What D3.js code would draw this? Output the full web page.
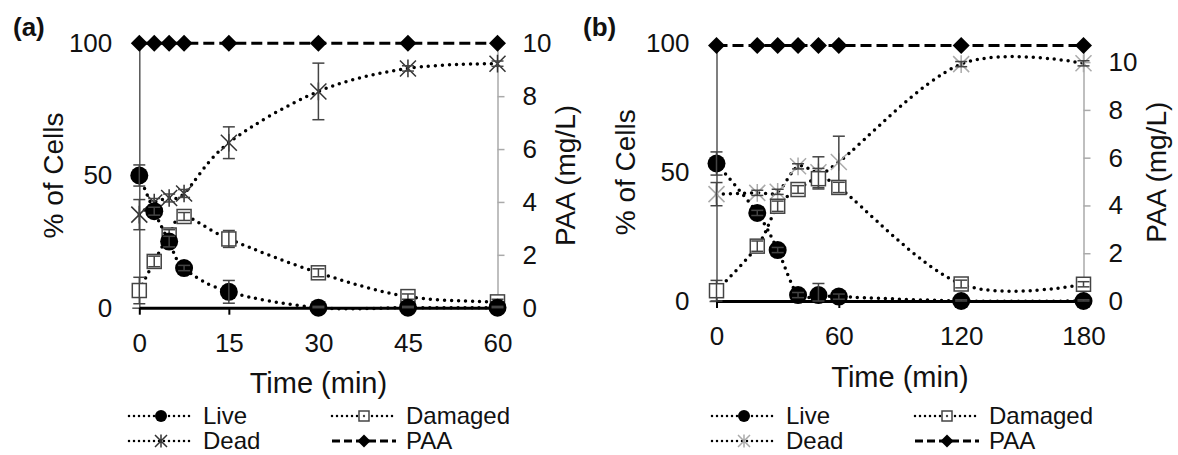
<!DOCTYPE html>
<html>
<head>
<meta charset="utf-8">
<script src="https://cdn.jsdelivr.net/npm/d3@7"></script>
<style>
    body { margin: 0; background: #fff; }
    text { font-family: "Liberation Sans", Arial, sans-serif; fill: #111; }
</style>
</head>
<body>
<svg id="chart" width="1178" height="455"></svg>
<script>
//#region data
// panel (a)
let timesA = [0, 2.5, 5, 7.5, 15, 30, 45, 60]
let liveA = [50, 36.5, 25, 15, 6, 0, 0, 0]
let liveErrA = [4, 1.5, 2, 1, 4.3, 0.5, 0.5, 0.5]
let damagedA = [6.5, 17.5, 27.5, 34.5, 26, 13.2, 4.2, 2.2]
let damagedErrA = [5, 2, 2, 1.5, 3.2, 1.5, 1, 1]
let deadA = [35.2, 39.8, 41.5, 43.2, 62.4, 81.8, 90.5, 92.3]
let deadErrA = [5.7, 1.5, 1.5, 1.5, 6, 10.7, 1, 1]
let paaA = [10, 10, 10, 10, 10, 10, 10, 10]
let xTicksA = [0, 15, 30, 45, 60]

// panel (b)
let timesB = [0, 20, 30, 40, 50, 60, 120, 180]
let liveB = [53.4, 34.2, 19.8, 2.3, 2.3, 1.7, 0, 0]
let liveErrB = [4.5, 1, 1, 1, 4.5, 1, 0.5, 0.5]
let damagedB = [4, 21.3, 36.8, 43.3, 47.5, 44.1, 6.6, 6.5]
let damagedErrB = [4, 2, 2, 1.5, 4, 2, 1.5, 1]
let deadB = [41.5, 42, 42.4, 52.3, 50, 54, 92, 92.3]
let deadErrB = [4.5, 1, 1, 1, 6, 10, 1, 1]
let paaB = [10.7, 10.7, 10.7, 10.7, 10.7, 10.7, 10.7, 10.7]
let xTicksB = [0, 60, 120, 180]

let yTicks = [0, 50, 100]
let y2Ticks = [0, 2, 4, 6, 8, 10]
let legendNames = ['Live', 'Damaged', 'Dead', 'PAA']
//#endregion

let svg = d3.select('#chart')
let dotted = '0 7'

let drawMarker = (g, type, cx, cy, s, color) => {
    if (type === 'circle') {
        g.append('circle').attr('cx', cx).attr('cy', cy).attr('r', s).attr('fill', '#000')
    } else if (type === 'square') {
        g.append('rect').attr('x', cx - s / 2).attr('y', cy - s / 2)
            .attr('width', s).attr('height', s)
            .attr('fill', '#fff').attr('stroke', '#444').attr('stroke-width', 1.5)
    } else if (type === 'star') {
        g.append('path')
            .attr('d', `M${cx - s},${cy - s}L${cx + s},${cy + s}M${cx - s},${cy + s}L${cx + s},${cy - s}M${cx},${cy - s * 1.1}L${cx},${cy + s * 1.1}`)
            .attr('stroke', color).attr('stroke-width', 1.5).attr('fill', 'none')
    } else if (type === 'diamond') {
        g.append('path')
            .attr('d', `M${cx},${cy - s}L${cx + s},${cy}L${cx},${cy + s}L${cx - s},${cy}Z`)
            .attr('fill', '#000')
    }
}

let drawPanel = p => {
    let g = svg.append('g')
    let x = d3.scaleLinear().domain([0, p.xMax]).range([p.left, p.right])
    let y = d3.scaleLinear().domain([0, 100]).range([p.bottom, p.top])
    let y2 = d3.scaleLinear().domain([0, p.y2Max]).range([p.bottom, p.top])

    // left axis, only the zero tick shows a mark
    let left = g.append('g')
        .attr('transform', `translate(${p.left},0)`)
        .call(d3.axisLeft(y).tickValues(yTicks).tickSize(7).tickSizeOuter(0).tickPadding(20))
    left.select('.domain').attr('stroke', '#555').attr('stroke-width', 1.5)
    left.selectAll('.tick line').attr('stroke', '#555').attr('stroke-width', 1.5)
        .attr('opacity', d => d === 0 ? 1 : 0)
    left.selectAll('text').attr('font-size', 26).attr('font-family', null)

    // right axis
    let right = g.append('g')
        .attr('transform', `translate(${p.right},0)`)
        .call(d3.axisRight(y2).tickValues(y2Ticks).tickSize(7).tickSizeOuter(0).tickPadding(18))
    right.select('.domain').attr('stroke', '#aaa').attr('stroke-width', 1.5)
    right.selectAll('.tick line').attr('stroke', '#aaa').attr('stroke-width', 1.5)
    right.selectAll('text').attr('font-size', 26).attr('font-family', null)

    // bottom axis
    let bottom = g.append('g')
        .attr('transform', `translate(0,${p.bottom})`)
        .call(d3.axisBottom(x).tickValues(p.xTicks).tickSize(7).tickSizeOuter(0).tickPadding(19))
    bottom.select('.domain').attr('stroke', '#000').attr('stroke-width', 3)
    bottom.selectAll('.tick line').attr('stroke', '#000').attr('stroke-width', 2)
    bottom.selectAll('text').attr('font-size', 26).attr('font-family', null)

    // titles
    g.append('text').text(p.tag)
        .attr('x', p.tagX).attr('y', 36)
        .attr('font-size', 26).attr('font-weight', 'bold')
    g.append('text').text('% of Cells')
        .attr('transform', `translate(${p.yTitleX},${(p.top + p.bottom) / 2}) rotate(-90)`)
        .attr('text-anchor', 'middle').attr('dy', '0.35em').attr('font-size', 28)
    g.append('text').text('PAA (mg/L)')
        .attr('transform', `translate(${p.y2TitleX},${(p.top + p.bottom) / 2}) rotate(-90)`)
        .attr('text-anchor', 'middle').attr('dy', '0.35em').attr('font-size', 28)
    g.append('text').text('Time (min)')
        .attr('x', (p.left + p.right) / 2).attr('y', p.xTitleY)
        .attr('text-anchor', 'middle').attr('font-size', 29)

    let smooth = d3.curveCardinal.tension(0)
    let series = [
        { vals: p.dead, err: p.deadErr, scale: y, marker: 'star', size: 8, color: p.deadColor, dash: dotted, width: 3.5 },
        { vals: p.damaged, err: p.damagedErr, scale: y, marker: 'square', size: 14, color: '#444', dash: dotted, width: 3.5 },
        { vals: p.live, err: p.liveErr, scale: y, marker: 'circle', size: 9, color: '#000', dash: dotted, width: 3.5 },
        { vals: p.paa, err: null, scale: y2, marker: 'diamond', size: 8.5, color: '#000', dash: '11 5', width: 3 }
    ]

    series.forEach(s => {
        let pts = p.times.map((t, i) => [x(t), s.scale(s.vals[i])])
        g.append('path')
            .attr('d', d3.line().curve(s.marker === 'diamond' ? d3.curveLinear : smooth)(pts))
            .attr('fill', 'none')
            .attr('stroke', '#000')
            .attr('stroke-width', s.width)
            .attr('stroke-linecap', s.marker === 'diamond' ? 'butt' : 'round')
            .attr('stroke-dasharray', s.dash)
        let mg = g.append('g')
        pts.forEach(pt => drawMarker(mg, s.marker, pt[0], pt[1], s.size, s.color))
        if (s.err) {
            let eg = g.append('g').attr('stroke', '#444').attr('stroke-width', 1.5)
            p.times.forEach((t, i) => {
                let cx = x(t),
                    y1 = s.scale(s.vals[i] + s.err[i]),
                    y0 = s.scale(Math.max(0, s.vals[i] - s.err[i]))
                eg.append('line').attr('x1', cx).attr('x2', cx).attr('y1', y1).attr('y2', y0)
                eg.append('line').attr('x1', cx - 6).attr('x2', cx + 6).attr('y1', y1).attr('y2', y1)
                eg.append('line').attr('x1', cx - 6).attr('x2', cx + 6).attr('y1', y0).attr('y2', y0)
            })
        }
    })

    // legend
    let lg = g.append('g')
    let slots = [
        { cx: p.legendX, y: 416, marker: 'circle', size: 6, color: '#000', dash: '0 5' },
        { cx: p.legendX + 203, y: 416, marker: 'square', size: 10, color: '#444', dash: '0 5' },
        { cx: p.legendX, y: 441, marker: 'star', size: 6, color: p.deadColor, dash: '0 5' },
        { cx: p.legendX + 203, y: 441, marker: 'diamond', size: 6.5, color: '#000', dash: '8 4' }
    ]
    slots.forEach((s, i) => {
        lg.append('line')
            .attr('x1', s.cx - 32).attr('x2', s.cx + 32)
            .attr('y1', s.y).attr('y2', s.y)
            .attr('stroke', '#000')
            .attr('stroke-width', s.marker === 'diamond' ? 3 : 2.5)
            .attr('stroke-linecap', s.marker === 'diamond' ? 'butt' : 'round')
            .attr('stroke-dasharray', s.dash)
        drawMarker(lg, s.marker, s.cx, s.y, s.size, s.color)
        if (s.marker === 'square') {
            lg.append('circle').attr('cx', s.cx).attr('cy', s.y).attr('r', 1.2).attr('fill', '#444')
        }
        lg.append('text').text(legendNames[i])
            .attr('x', s.cx + 42).attr('y', s.y)
            .attr('dy', '0.35em').attr('font-size', 24)
    })
}

drawPanel({
    tag: '(a)', tagX: 13,
    left: 139.3, right: 497.5, top: 43.3, bottom: 307.7,
    xMax: 60, y2Max: 10, xTicks: xTicksA,
    yTitleX: 53, y2TitleX: 565, xTitleY: 393,
    legendX: 161, deadColor: '#333',
    times: timesA, live: liveA, liveErr: liveErrA,
    damaged: damagedA, damagedErr: damagedErrA,
    dead: deadA, deadErr: deadErrA, paa: paaA
})

drawPanel({
    tag: '(b)', tagX: 583,
    left: 716.5, right: 1083.5, top: 43.5, bottom: 301,
    xMax: 180, y2Max: 10.78, xTicks: xTicksB,
    yTitleX: 625, y2TitleX: 1156, xTitleY: 387,
    legendX: 744, deadColor: '#aaa',
    times: timesB, live: liveB, liveErr: liveErrB,
    damaged: damagedB, damagedErr: damagedErrB,
    dead: deadB, deadErr: deadErrB, paa: paaB
})
</script>
</body>
</html>
